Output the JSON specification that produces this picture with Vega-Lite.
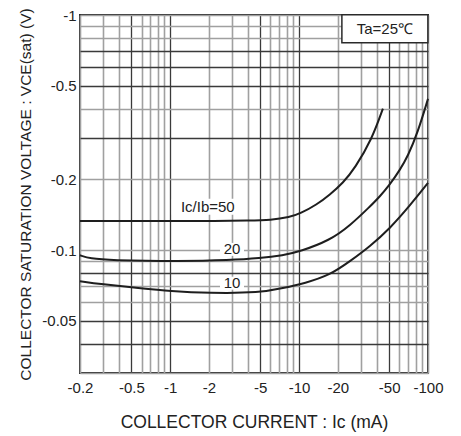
{
  "$schema": "https://vega.github.io/schema/vega-lite/v6.json",
  "width": 348,
  "height": 358,
  "autosize": {"type": "none"},
  "padding": {"left": 80, "top": 15, "right": 33, "bottom": 63},
  "background": "white",
  "config": {
    "view": {"stroke": "#2a2a2a", "strokeWidth": 2},
    "font": "Liberation Sans"
  },
  "datasets": {
    "curves": [
      {"ratio": 50, "ic": -0.2, "vce": -0.133},
      {"ratio": 50, "ic": -0.5, "vce": -0.133},
      {"ratio": 50, "ic": -1, "vce": -0.133},
      {"ratio": 50, "ic": -2, "vce": -0.133},
      {"ratio": 50, "ic": -4.2, "vce": -0.1335},
      {"ratio": 50, "ic": -6, "vce": -0.134},
      {"ratio": 50, "ic": -8.5, "vce": -0.138},
      {"ratio": 50, "ic": -10.2, "vce": -0.143},
      {"ratio": 50, "ic": -13.7, "vce": -0.156},
      {"ratio": 50, "ic": -17.3, "vce": -0.172},
      {"ratio": 50, "ic": -21.9, "vce": -0.193},
      {"ratio": 50, "ic": -27.1, "vce": -0.223},
      {"ratio": 50, "ic": -36.7, "vce": -0.296},
      {"ratio": 50, "ic": -44.7, "vce": -0.4},
      {"ratio": 20, "ic": -0.2, "vce": -0.095},
      {"ratio": 20, "ic": -0.24, "vce": -0.092},
      {"ratio": 20, "ic": -0.34, "vce": -0.0905},
      {"ratio": 20, "ic": -1.19, "vce": -0.0896},
      {"ratio": 20, "ic": -2.9, "vce": -0.0905},
      {"ratio": 20, "ic": -5, "vce": -0.0923},
      {"ratio": 20, "ic": -7.5, "vce": -0.095},
      {"ratio": 20, "ic": -10.2, "vce": -0.0987},
      {"ratio": 20, "ic": -17.3, "vce": -0.11},
      {"ratio": 20, "ic": -24.8, "vce": -0.127},
      {"ratio": 20, "ic": -35.4, "vce": -0.153},
      {"ratio": 20, "ic": -42.3, "vce": -0.169},
      {"ratio": 20, "ic": -50.6, "vce": -0.19},
      {"ratio": 20, "ic": -60.5, "vce": -0.219},
      {"ratio": 20, "ic": -69.8, "vce": -0.251},
      {"ratio": 20, "ic": -83.4, "vce": -0.317},
      {"ratio": 20, "ic": -100, "vce": -0.44},
      {"ratio": 10, "ic": -0.2, "vce": -0.0737},
      {"ratio": 10, "ic": -0.29, "vce": -0.0716},
      {"ratio": 10, "ic": -0.58, "vce": -0.0689},
      {"ratio": 10, "ic": -1, "vce": -0.0669},
      {"ratio": 10, "ic": -2, "vce": -0.0656},
      {"ratio": 10, "ic": -5, "vce": -0.0658},
      {"ratio": 10, "ic": -7.5, "vce": -0.0689},
      {"ratio": 10, "ic": -11.1, "vce": -0.0723},
      {"ratio": 10, "ic": -17.3, "vce": -0.0782},
      {"ratio": 10, "ic": -24.8, "vce": -0.0896},
      {"ratio": 10, "ic": -35.4, "vce": -0.1036},
      {"ratio": 10, "ic": -50.6, "vce": -0.1235},
      {"ratio": 10, "ic": -72.3, "vce": -0.1545},
      {"ratio": 10, "ic": -100, "vce": -0.193}
    ],
    "labels": [
      {"text": "Ic/Ib=50", "ic": -1.96, "vce": -0.153},
      {"text": "20", "ic": -3.02, "vce": -0.1007},
      {"text": "10", "ic": -3.02, "vce": -0.0723},
      {"text": "Ta=25℃", "ic": -46.3, "vce": -0.873}
    ]
  },
  "layer": [
    {
      "data": {"name": "curves"},
      "mark": {"type": "line", "interpolate": "basis", "color": "#1e1e1e", "strokeWidth": 2},
      "encoding": {
        "x": {
          "field": "ic", "type": "quantitative",
          "scale": {"type": "log", "domain": [-0.2, -100], "nice": false},
          "axis": {
            "values": [-0.2,-0.3,-0.4,-0.5,-0.6,-0.7,-0.8,-0.9,-1,-2,-3,-4,-5,-6,-7,-8,-9,-10,-20,-30,-40,-50,-60,-70,-80,-90,-100],
            "grid": true,
            "gridColor": {"condition": {"test": "indexof([-0.5,-1,-5,-10,-50], datum.value) >= 0", "value": "#3a3a3a"}, "value": "#a0a0a0"},
            "gridWidth": {"condition": {"test": "indexof([-0.5,-1,-5,-10,-50], datum.value) >= 0", "value": 1.3}, "value": 1.6},
            "ticks": false,
            "domain": false,
            "labelExpr": "indexof([-0.2,-0.5,-1,-2,-5,-10,-20,-50,-100], datum.value) >= 0 ? '-' + format(-datum.value, '~g') : ''",
            "labelFlush": false,
            "labelOverlap": false,
            "labelPadding": 7,
            "labelFontSize": 15,
            "labelColor": "#222",
            "title": "COLLECTOR CURRENT : Ic  (mA)",
            "titleFontSize": 17.5,
            "titleFontWeight": "normal",
            "titleColor": "#222",
            "titleY": 49,
            "titleBaseline": "middle"
          }
        },
        "y": {
          "field": "vce", "type": "quantitative",
          "scale": {"type": "log", "domain": [-0.03, -1], "nice": false},
          "axis": {
            "values": [-0.03,-0.04,-0.05,-0.06,-0.07,-0.08,-0.09,-0.1,-0.2,-0.3,-0.4,-0.5,-0.6,-0.7,-0.8,-0.9,-1],
            "grid": true,
            "gridColor": {"condition": {"test": "indexof([-0.7,-0.6,-0.5,-0.3,-0.08,-0.05,-0.04], datum.value) >= 0", "value": "#3a3a3a"}, "value": "#a0a0a0"},
            "gridWidth": {"condition": {"test": "indexof([-0.7,-0.6,-0.5,-0.3,-0.08,-0.05,-0.04], datum.value) >= 0", "value": 1.3}, "value": 1.6},
            "ticks": false,
            "domain": false,
            "labelExpr": "indexof([-0.05,-0.1,-0.2,-0.5,-1], datum.value) >= 0 ? '-' + format(-datum.value, '~g') : ''",
            "labelFlush": false,
            "labelOverlap": false,
            "labelPadding": 4,
            "labelFontSize": 15,
            "labelColor": "#222",
            "title": "COLLECTOR SATURATION VOLTAGE : VCE(sat)  (V)",
            "titleFontSize": 15.5,
            "titleFontWeight": "normal",
            "titleColor": "#222",
            "titleX": -55,
            "titleBaseline": "middle"
          }
        },
        "detail": {"field": "ratio", "type": "nominal"}
      }
    },
    {
      "data": {"name": "labels"},
      "transform": [{"filter": "datum.text == 'Ic/Ib=50'"}],
      "mark": {"type": "point", "shape": "M-1,-0.222H1V0.222H-1Z", "size": 5184, "filled": true, "fill": "white", "strokeWidth": 0, "opacity": 1},
      "encoding": {
        "x": {"field": "ic", "type": "quantitative"},
        "y": {"field": "vce", "type": "quantitative"}
      }
    },
    {
      "data": {"name": "labels"},
      "transform": [{"filter": "datum.text == '20' || datum.text == '10'"}],
      "mark": {"type": "point", "shape": "M-1,-0.54H1V0.54H-1Z", "size": 576, "filled": true, "fill": "white", "strokeWidth": 0, "opacity": 1},
      "encoding": {
        "x": {"field": "ic", "type": "quantitative"},
        "y": {"field": "vce", "type": "quantitative"}
      }
    },
    {
      "data": {"name": "labels"},
      "transform": [{"filter": "datum.text == 'Ta=25℃'"}],
      "mark": {"type": "point", "shape": "M-1,-0.3256H1V0.3256H-1Z", "size": 7396, "filled": true, "fill": "white", "stroke": "#2a2a2a", "strokeWidth": 1.5, "opacity": 1},
      "encoding": {
        "x": {"field": "ic", "type": "quantitative"},
        "y": {"field": "vce", "type": "quantitative"}
      }
    },
    {
      "data": {"name": "labels"},
      "mark": {"type": "text", "fontSize": 15, "color": "#222", "align": "center", "baseline": "middle"},
      "encoding": {
        "x": {"field": "ic", "type": "quantitative"},
        "y": {"field": "vce", "type": "quantitative"},
        "text": {"field": "text", "type": "nominal"}
      }
    }
  ]
}
